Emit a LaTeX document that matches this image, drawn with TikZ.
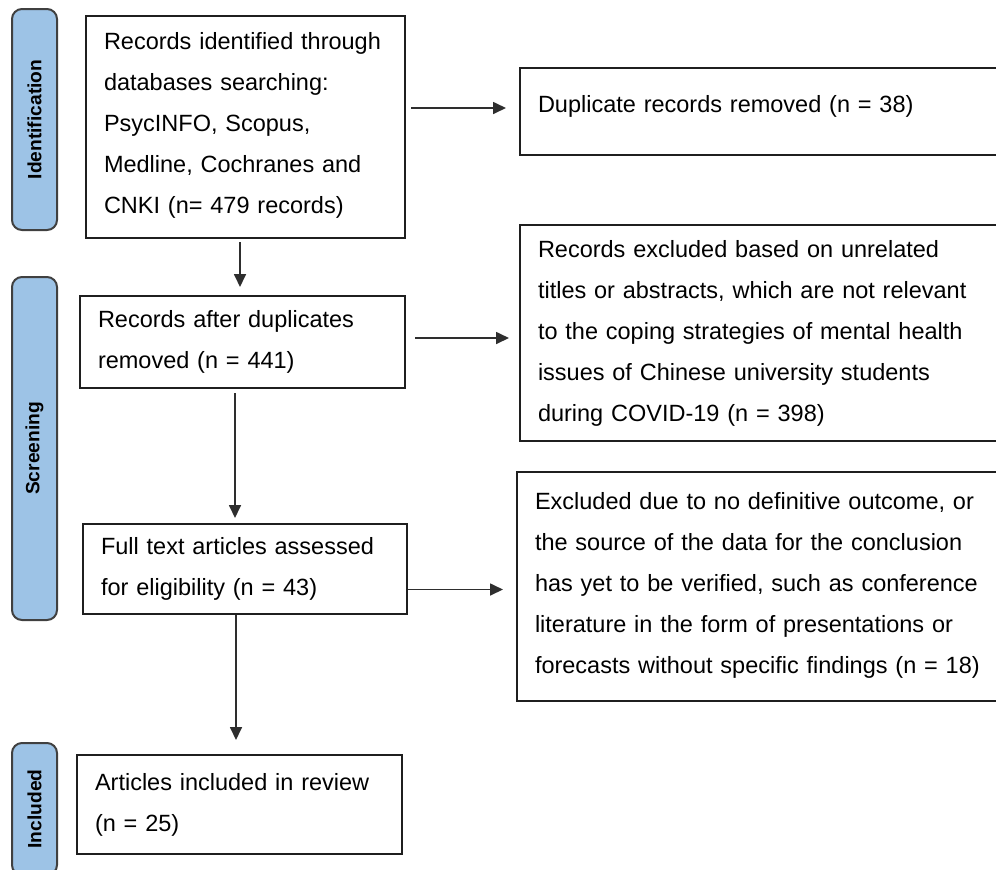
\documentclass[tikz,border=0pt]{standalone}
\usepackage{fontspec}
\setmainfont{Liberation Sans}
\usetikzlibrary{positioning,arrows.meta}
\definecolor{tabcolor}{RGB}{157,195,230}

\begin{document}
\begin{tikzpicture}[
    x=0.5pt, y=-0.5pt,
    box/.style={draw=black!88, line width=1pt, anchor=north west, align=left, inner xsep=9pt, font=\fontsize{11.75}{20.5}\selectfont},
    tab/.style={draw=black!75, line width=1pt, fill=tabcolor, rounded corners=5pt, rotate=90, minimum height=22.5pt, font=\bfseries\fontsize{9.6}{11}\selectfont},
    arr/.style={-{Triangle[length=6.5pt,width=6pt]}, line width=0.85pt, black!82}
]
    \useasboundingbox (0,0) rectangle (996,869);
    \clip (0,0) rectangle (996,869);

    % Stage tabs
    \foreach \nm/\yc/\len/\lbl in {tabI/119.5/110.5pt/Identification, tabS/448.5/171.5pt/Screening, tabN/809/66pt/Included} {
        \node[tab, minimum width=\len] (\nm) at (34.5,\yc) {\lbl};
    }

    % Main flow
    \node[box, minimum width=159.5pt, minimum height=111pt, text width=141.5pt, text depth=86pt] (rec) at (85,15)
        {Records identified through\\databases searching:\\PsycINFO, Scopus,\\Medline, Cochranes and\\CNKI (n= 479 records)};
    \node[box, minimum width=162.5pt, minimum height=46pt, text width=144.5pt] (after) at (79,295)
        {Records after duplicates\\removed (n = 441)};
    \node[box, minimum width=162pt, minimum height=45pt, text width=144pt] (full) at (82,523)
        {Full text articles assessed\\for eligibility (n = 43)};
    \node[box, minimum width=162.5pt, minimum height=49.5pt, text width=144.5pt] (incl) at (76,754)
        {Articles included in review\\(n = 25)};

    % Exclusions
    \node[box, minimum width=256pt, minimum height=43.5pt, text width=238pt, text height=9pt, text depth=8pt] (dup) at (519,67)
        {Duplicate records removed (n = 38)};
    \node[box, minimum width=256pt, minimum height=108pt, text width=238pt] (excA) at (519,224)
        {Records excluded based on unrelated\\titles or abstracts, which are not relevant\\to the coping strategies of mental health\\issues of Chinese university students\\during COVID-19 (n = 398)};
    \node[box, minimum width=258pt, minimum height=114.5pt, text width=240pt, inner xsep=8.5pt, text depth=86pt] (excB) at (516,471)
        {Excluded due to no definitive outcome, or\\the source of the data for the conclusion\\has yet to be verified, such as conference\\literature in the form of presentations or\\forecasts without specific findings (n = 18)};

    % Arrows down
    \coordinate (v1) at ([xshift=-2.75pt]rec.south);
    \coordinate (v2) at ([xshift=-3.75pt]after.south);
    \coordinate (v3) at ([xshift=-4.5pt]full.south);
    \draw[arr, shorten <=1.5pt, shorten >=4pt] (v1) -- (v1 |- after.north);
    \draw[arr, shorten <=2pt, shorten >=2.5pt] (v2) -- (v2 |- full.north);
    \draw[arr, shorten >=7pt] (v3) -- (v3 |- incl.north);

    % Arrows right
    \coordinate (h1) at ([yshift=1.75pt]dup.west);
    \coordinate (h2) at ([yshift=-2.5pt]excA.west);
    \coordinate (h3) at ([yshift=-1.5pt]excB.west);
    \draw[arr, shorten <=2.5pt, shorten >=6.5pt] (h1 -| rec.east) -- (h1);
    \draw[arr, shorten <=4.5pt, shorten >=5pt] (h2 -| after.east) -- (h2);
    \draw[arr, shorten >=6.5pt] (h3 -| full.east) -- (h3);
\end{tikzpicture}
\end{document}
